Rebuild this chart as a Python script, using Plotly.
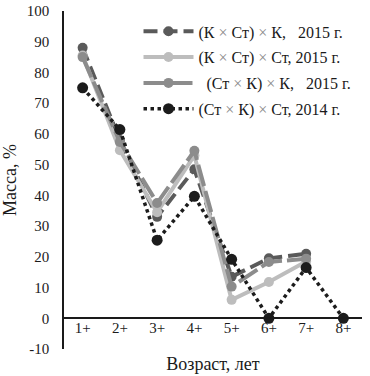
import plotly.graph_objects as go

ages = ["1+", "2+", "3+", "4+", "5+", "6+", "7+", "8+"]
kst_k_2015 = [88, 58, 33, 48.5, 13.5, 19.5, 21, None]
kst_st_2015 = [85.5, 54.7, 34.5, 53, 6, 11.8, 18.5, None]
stk_k_2015 = [85, 57.4, 37.5, 54.5, 10.3, 18.3, 19.4, None]
stk_st_2014 = [75, 61.4, 25.4, 39.7, 19.2, 0, 16.5, 0]
y_ticks = [-10, 0, 10, 20, 30, 40, 50, 60, 70, 80, 90, 100]
y_tick_labels = ["-10", "0", "10", "20", "30", "40", "50", "60", "70", "80", "90", "100"]

X = "<span style='color:#8a8a8a'>×</span>"
names = [
    f"(К {X} Ст) {X} К,\u00a0\u00a0 2015 г.",
    f"(К {X} Ст) {X} Ст, 2015 г.",
    f"\u00a0\u00a0(Ст {X} К) {X} К,\u00a0\u00a0 2015 г.",
    f"(Ст {X} К) {X} Ст, 2014 г.",
]

fig = go.Figure()
fig.add_trace(go.Scatter(x=ages, y=kst_k_2015, name=names[0], mode="lines+markers",
                         line=dict(color="#5a5a5a", width=4, dash="14px,6px"),
                         marker=dict(size=10, color="#5a5a5a"), legendgroup="a"))
fig.add_trace(go.Scatter(x=ages, y=kst_st_2015, name=names[1], mode="lines+markers",
                         line=dict(color="#bdbdbd", width=4),
                         marker=dict(size=10, color="#bdbdbd"), legendgroup="b"))
fig.add_trace(go.Scatter(x=ages, y=stk_k_2015, name=names[2], mode="lines+markers",
                         line=dict(color="#8c8c8c", width=4, dash="22px,5px"),
                         marker=dict(size=10, color="#8c8c8c"), legendgroup="c"))
fig.add_trace(go.Scatter(x=ages, y=stk_st_2014, name=names[3], mode="lines+markers",
                         line=dict(color="#1c1c1c", width=3.5, dash="dot"),
                         marker=dict(size=11, color="#1c1c1c"), legendgroup="d"))

font = "Liberation Serif, Times New Roman, serif"
fig.update_layout(
    width=370, height=376,
    margin=dict(l=64, r=8, t=11, b=27, autoexpand=False),
    paper_bgcolor="white", plot_bgcolor="white",
    font=dict(family=font, size=15, color="#1a1a1a"),
    legend=dict(x=0.25, y=0.99, xanchor="left", yanchor="top", itemwidth=50,
                font=dict(family=font, size=16, color="#1a1a1a"),
                bgcolor="rgba(0,0,0,0)", tracegroupgap=2, traceorder="grouped"),
    xaxis=dict(type="category", range=[-0.5, 7.5], anchor="free", position=10/110,
               showline=True, linecolor="#1a1a1a", linewidth=1.5, showgrid=False,
               zeroline=False, ticks="", ticklabelstandoff=-4, automargin=False,
               title=dict(text="Возраст, лет", font=dict(size=18), standoff=21)),
    yaxis=dict(range=[-10, 100], tickmode="array", tickvals=y_ticks, ticktext=y_tick_labels,
               showline=True, linecolor="#1a1a1a",
               linewidth=1.5, showgrid=False, zeroline=False, ticks="",
               ticklabelstandoff=10, automargin=False,
               title=dict(text="Масса, %", font=dict(size=18), standoff=7)),
)
fig.write_html("out.html", config={"displayModeBar": False},
               post_script="document.body.style.margin='0';")
